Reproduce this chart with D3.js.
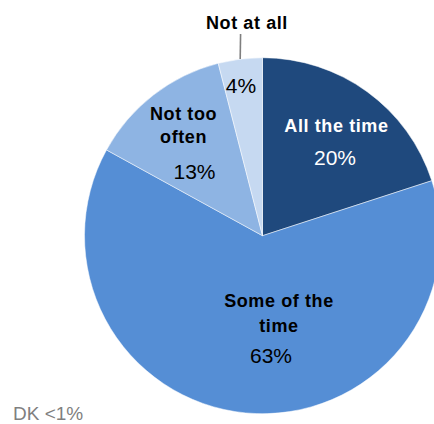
<!DOCTYPE html>
<html><head><meta charset="utf-8">
<script src="https://cdn.jsdelivr.net/npm/d3@7"></script>
<style>
html,body{margin:0;padding:0;background:#fff;}
svg{display:block;}
</style></head>
<body>
<svg id="chart" width="434" height="424"></svg>
<script>
const categories = ["All the time", "Some of the time", "Not too often", "Not at all"];
const values = [20, 63, 13, 4];
const colors = ["#1F497D", "#558ED5", "#8EB4E3", "#C6D9F1"];
const labelLines = [["All the time"], ["Some of the", "time"], ["Not too", "often"], ["Not at all"]];
const note = "DK <1%";

const svg = d3.select("#chart");
const cx = 262.5, cy = 235.7, R = 178;

const pie = d3.pie().sort(null).value(d => d)(values);
const arc = d3.arc().innerRadius(0).outerRadius(R);

const g = svg.append("g").attr("transform", `translate(${cx},${cy})`);
g.selectAll("path.slice").data(pie).join("path")
  .attr("class", "slice")
  .attr("d", arc)
  .attr("fill", (d, i) => colors[i])
  .attr("stroke", "#fff")
  .attr("stroke-width", 0.5);

// label baseline anchors (polar: angle degrees clockwise from top, radius)
const nameAnchor = [[35.5, 127.4], [167.0, 73.2], [325.7, 140.1], [355.7, 207.3]];
const pctAnchor = [[45.7, 101.3], [176.2, 127.6], [309.8, 88.5], [351.4, 144.3]];
const lineGap = [0, 25, 23, 0];
const nameColor = ["#fff", "#000", "#000", "#000"];
const pctColor = ["#fff", "#000", "#000", "#000"];
const rad = a => a * Math.PI / 180;
const font = "'Liberation Sans', Arial, sans-serif";

pie.forEach((d, i) => {
  const [nx, ny] = d3.pointRadial(rad(nameAnchor[i][0]), nameAnchor[i][1]);
  const t = g.append("text")
    .attr("x", nx).attr("y", ny)
    .attr("text-anchor", "middle")
    .attr("font-family", font)
    .attr("font-weight", "bold")
    .attr("font-size", 18)
    .attr("letter-spacing", 0.6)
    .attr("fill", nameColor[i]);
  labelLines[i].forEach((ln, j) => {
    t.append("tspan").attr("x", nx).attr("dy", j === 0 ? 0 : lineGap[i]).text(ln);
  });
  const [px, py] = d3.pointRadial(rad(pctAnchor[i][0]), pctAnchor[i][1]);
  g.append("text")
    .attr("x", px).attr("y", py)
    .attr("text-anchor", "middle")
    .attr("font-family", font)
    .attr("font-size", 21)
    .attr("fill", pctColor[i])
    .text(d3.format(".0f")(values[i]) + "%");
});

// leader line for "Not at all"
const last = pie[3];
const mid = (last.startAngle + last.endAngle) / 2;
const p0 = d3.pointRadial(mid, R);
const p1 = d3.pointRadial(mid + rad(1.0), R + 25);
g.append("line")
  .attr("x1", p0[0]).attr("y1", p0[1])
  .attr("x2", p1[0]).attr("y2", p1[1])
  .attr("stroke", "#7f7f7f").attr("stroke-width", 1.6);

svg.append("text")
  .attr("x", 13).attr("y", 420)
  .attr("font-family", font)
  .attr("font-size", 19)
  .attr("fill", "#7f7f7f")
  .text(note);
</script>
</body></html>
